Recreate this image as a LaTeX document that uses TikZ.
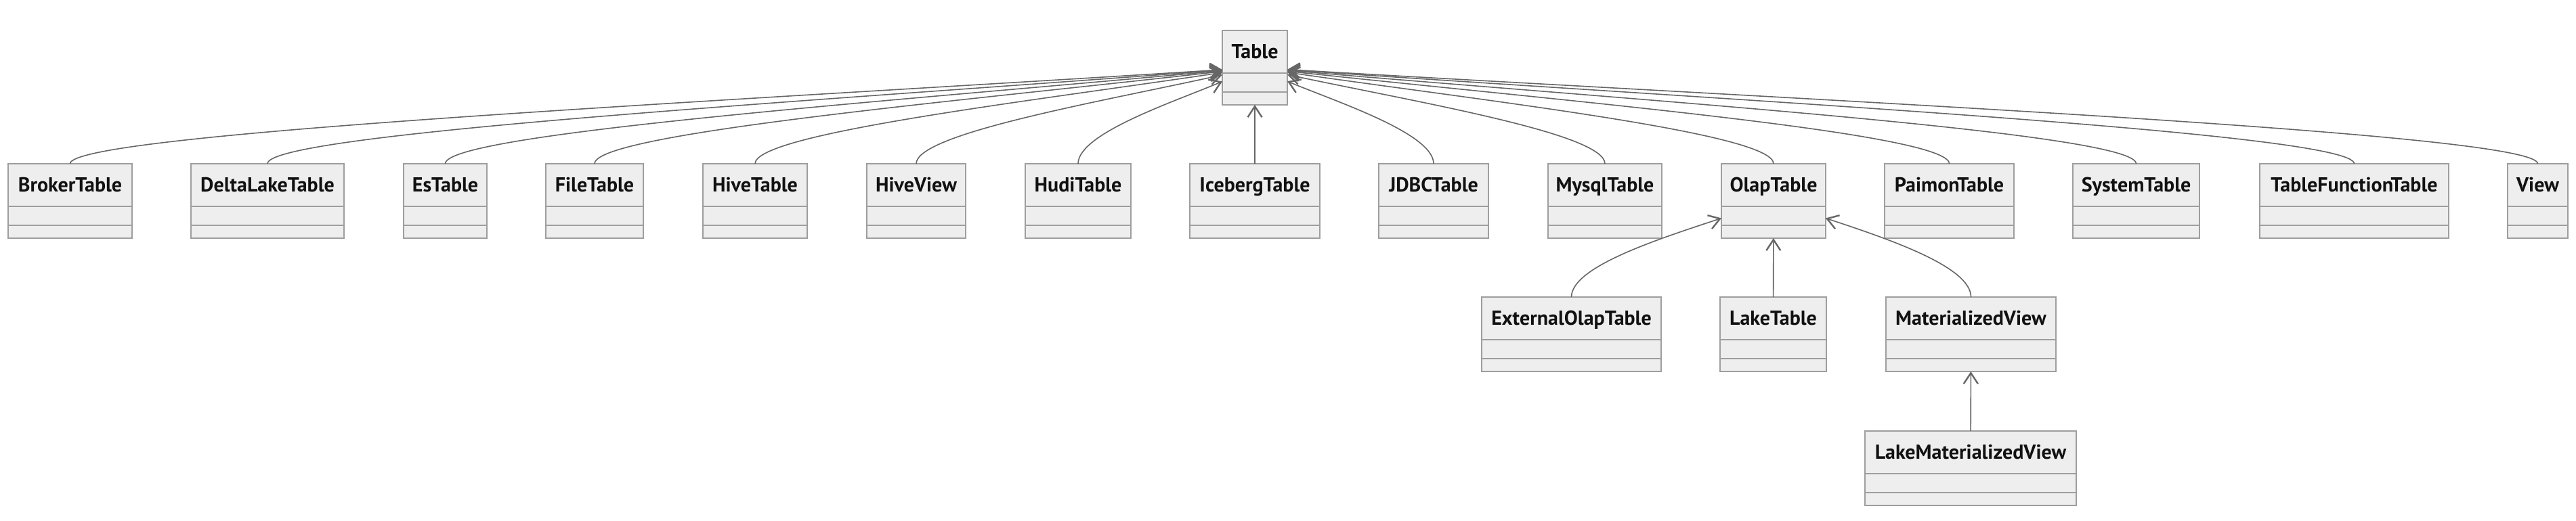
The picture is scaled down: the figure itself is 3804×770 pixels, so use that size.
\documentclass[tikz,border=0pt]{standalone}
\usepackage{fontspec}
\setmainfont{PT Sans}
\usetikzlibrary{arrows.meta,calc}
\definecolor{boxfill}{HTML}{EEEEEE}
\definecolor{boxline}{HTML}{9E9E9E}
\definecolor{edgecol}{HTML}{666666}
\definecolor{txtcol}{HTML}{111111}
\newcommand\mkcls[4]{%
  \node[cls,minimum width=#3pt] (#1) at (#2) {\rule[-68.5pt]{0pt}{110pt}#4};
  \draw[divider] ([yshift=-63pt]#1.north west) -- ([yshift=-63pt]#1.north east);
  \draw[divider] ([yshift=-91pt]#1.north west) -- ([yshift=-91pt]#1.north east);}
\newcommand\inhcurve[2]{\draw[inh] (#1.north) .. controls +(0,-45) and ($(#1.north)!0.55!(#2.center)+(0,-14)$) .. (#2);}
\begin{document}
\begin{tikzpicture}[x=1pt,y=-1pt,
 cls/.style={rectangle, draw=boxline, fill=boxfill, line width=1.5pt,
   inner sep=0pt, anchor=north west, outer sep=0pt,
   font=\fontsize{30pt}{34pt}\selectfont\bfseries, text=txtcol},
 divider/.style={draw=boxline, line width=1.5pt},
 inh/.style={draw=edgecol, line width=1.6pt, -{Straight Barb[length=16pt,width=21pt,line width=2.4pt]}}]
\useasboundingbox[fill=white] (0,0) rectangle (3804,770);
% top
\mkcls{Table}{1805,45}{96}{Table}
% row 1
\mkcls{broker}{12,242}{183}{BrokerTable}
\mkcls{delta}{282,242}{226}{DeltaLakeTable}
\mkcls{es}{596,242}{123}{EsTable}
\mkcls{file}{806,242}{144}{FileTable}
\mkcls{hivet}{1038,242}{154}{HiveTable}
\mkcls{hivev}{1280,242}{146}{HiveView}
\mkcls{hudi}{1514,242}{156}{HudiTable}
\mkcls{iceberg}{1757,242}{192}{IcebergTable}
\mkcls{jdbc}{2036,242}{162}{JDBCTable}
\mkcls{mysql}{2286,242}{168}{MysqlTable}
\mkcls{olap}{2542,242}{154}{OlapTable}
\mkcls{paimon}{2783,242}{191}{PaimonTable}
\mkcls{system}{3061,242}{187}{SystemTable}
\mkcls{tft}{3337,242}{279}{TableFunctionTable}
\mkcls{view}{3703,242}{89}{View}
% row 2
\mkcls{extolap}{2188,439}{265}{ExternalOlapTable}
\mkcls{lake}{2540,439}{157}{LakeTable}
\mkcls{mv}{2785,439}{251}{MaterializedView}
% row 3
\mkcls{lmv}{2754,637}{312}{LakeMaterializedView}
% edges
\inhcurve{broker}{Table}
\inhcurve{delta}{Table}
\inhcurve{es}{Table}
\inhcurve{file}{Table}
\inhcurve{hivet}{Table}
\inhcurve{hivev}{Table}
\inhcurve{hudi}{Table}
\draw[inh] (iceberg) -- (Table);
\inhcurve{jdbc}{Table}
\inhcurve{mysql}{Table}
\inhcurve{olap}{Table}
\inhcurve{paimon}{Table}
\inhcurve{system}{Table}
\inhcurve{tft}{Table}
\inhcurve{view}{Table}
\draw[inh] (extolap.north) .. controls +(0,-45) and (2450,353) .. (olap);
\draw[inh] (lake) -- (olap);
\draw[inh] (mv.north) .. controls +(0,-45) and (2788,353) .. (olap);
\draw[inh] (lmv) -- (mv);
\end{tikzpicture}
\end{document}
